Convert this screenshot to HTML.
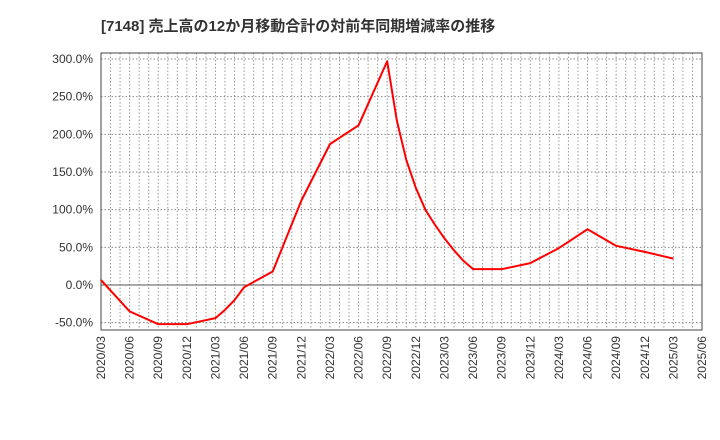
<!DOCTYPE html>
<html><head><meta charset="utf-8"><style>
body{margin:0;background:#fff;}
svg{display:block;font-family:"Liberation Sans","Noto Sans CJK JP",sans-serif;}
</style></head><body>
<svg id="c" width="720" height="440">
<text x="101" y="31" font-size="15" font-weight="bold" fill="#333">[7148]  売上高の12か月移動合計の対前年同期増減率の推移</text>
<g id="grid"></g><g id="axes"></g><g id="series"></g>
</svg>
<script>
const months=["2020/03","2020/06","2020/09","2020/12","2021/03","2021/04","2021/05","2021/06","2021/09","2021/12","2022/03","2022/06","2022/09","2022/10","2022/11","2022/12","2023/01","2023/02","2023/03","2023/04","2023/05","2023/06","2023/09","2023/12","2024/03","2024/06","2024/09","2024/12","2025/03"];
const values=[6.6,-35,-52,-52,-44,-33,-20,-3,18,112,187,212,297,219,166,129,100,80,62,46,32,21,21,29,49,74,52,44,35];
const yTicks=[-50,0,50,100,150,200,250,300];
const xTicks=["2020/03","2020/06","2020/09","2020/12","2021/03","2021/06","2021/09","2021/12","2022/03","2022/06","2022/09","2022/12","2023/03","2023/06","2023/09","2023/12","2024/03","2024/06","2024/09","2024/12","2025/03","2025/06"];
const NS="http://www.w3.org/2000/svg";
const L=101,R=702,T=53,B=330;
function mi(s){const p=s.split("/");return (+p[0]-2020)*12+(+p[1]-3);}
const x=s=>L+mi(s)*(R-L)/63;
const y=v=>285-v*226/300;
function mk(t,a,p){const e=document.createElementNS(NS,t);for(const k in a)e.setAttribute(k,a[k]);p.appendChild(e);return e;}
const grid=document.getElementById("grid"),axes=document.getElementById("axes"),ser=document.getElementById("series");
for(let m=1;m<63;m++){const xx=L+m*(R-L)/63;
const g=mk("line",{x1:xx,x2:xx,y1:T,y2:B,stroke:"#999","stroke-dasharray":"1.5,2","stroke-width":1},grid);

}
yTicks.forEach(v=>{const yy=y(v);
const g=mk("line",{x1:L,x2:R,y1:yy,y2:yy,stroke:v===0?"#555":"#888","stroke-dasharray":v===0?"":"1.5,2","stroke-width":1},grid);


const t=mk("text",{x:93,y:yy+4,"text-anchor":"end","font-size":12,fill:"#333"},axes);
t.textContent=v.toFixed(1)+"%";

});
xTicks.forEach(s=>{const xx=x(s);
const t=mk("text",{transform:`translate(${xx+4},336) rotate(-90)`,"text-anchor":"end","font-size":12,fill:"#333"},axes);
t.textContent=s;

});
const fr=mk("rect",{x:L,y:T,width:R-L,height:B-T,fill:"none",stroke:"#444","stroke-width":1},axes);


const pl=mk("polyline",{points:months.map((m,i)=>x(m)+","+y(values[i])).join(" "),fill:"none",stroke:"#ff0000","stroke-width":2,"stroke-linejoin":"round"},ser);


</script>
</body></html>
